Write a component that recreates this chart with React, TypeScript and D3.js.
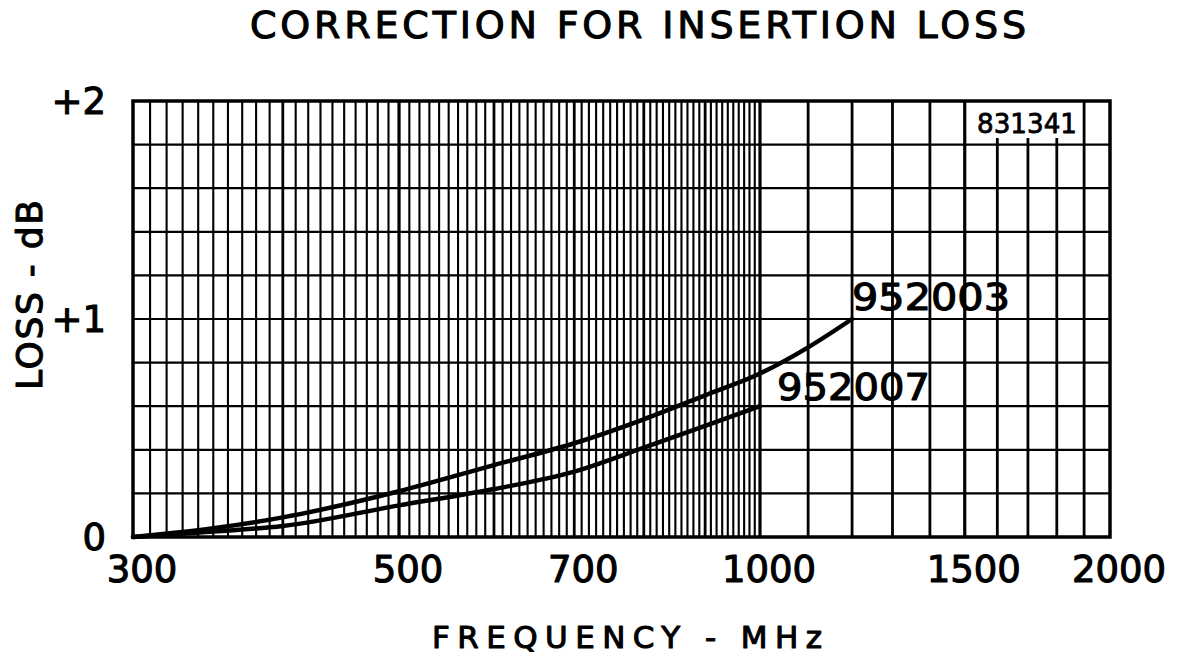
import { useEffect, useRef } from "react"
import * as d3 from "d3"

const title = "CORRECTION FOR INSERTION LOSS"
const xTitle = "FREQUENCY - MHz"
const yTitle = "LOSS - dB"
const chartId = "831341"

const xTicks = [300, 500, 700, 1000, 1500, 2000]
const yTicks = [0, 1, 2]
const yTickLabels = ["0", "+1", "+2"]

const freq952003 = [300, 350, 400, 500, 600, 700, 800, 900, 1000, 1100, 1200]
const loss952003 = [0, 0.04, 0.09, 0.21, 0.33, 0.43, 0.54, 0.65, 0.75, 0.87, 1.0]
const freq952007 = [300, 350, 400, 500, 600, 700, 800, 900, 1000]
const loss952007 = [0, 0.025, 0.05, 0.145, 0.22, 0.3, 0.41, 0.51, 0.6]

const W = 1187
const H = 657
const FONT = "'DejaVu Sans', sans-serif"

export default function App() {
  const svgRef = useRef<SVGSVGElement>(null)

  useEffect(() => {
    const svgEl = svgRef.current
    if (!svgEl) return
    const svg = d3.select(svgEl)
    svg.selectAll("*").remove()

    const left = 133, right = 1110, top = 101, bottom = 537
    // paper is log but hand-drawn, so pin the decade break at 1000
    const x = d3.scaleLog().domain([300, 1000, 2000]).range([left, 760, right])
    const y = d3.scaleLinear().domain([0, 2]).range([bottom, top])

    const fine = d3.range(310, 1000, 10)
    const coarse = d3.range(1000, 2000, 100)
    const g = svg.append("g").attr("stroke", "#000").attr("fill", "none")

    g.selectAll("line.v").data([...fine, ...coarse]).join("line")
      .attr("x1", d => x(d)).attr("x2", d => x(d))
      .attr("y1", top).attr("y2", bottom)
      .attr("stroke-width", d => (d % 500 === 0 ? 3.2 : d % 100 === 0 ? 2.8 : 2.1))

    g.selectAll("line.h").data(d3.range(0.2, 2, 0.2)).join("line")
      .attr("x1", left).attr("x2", right)
      .attr("y1", d => y(d)).attr("y2", d => y(d))
      .attr("stroke-width", 2.2)

    // id box
    svg.append("rect").attr("x", 969).attr("y", top).attr("width", 113).attr("height", 37).attr("fill", "#fff")

    svg.append("rect").attr("x", left).attr("y", top).attr("width", right - left).attr("height", bottom - top)
      .attr("fill", "none").attr("stroke", "#000").attr("stroke-width", 3.5)

    const line = d3.line<[number, number]>().x(d => x(d[0])).y(d => y(d[1])).curve(d3.curveMonotoneX)
    const series = [
      freq952003.map((f, i) => [f, loss952003[i]] as [number, number]),
      freq952007.map((f, i) => [f, loss952007[i]] as [number, number]),
    ]
    svg.append("g").selectAll("path").data(series).join("path")
      .attr("d", d => line(d) || "")
      .attr("fill", "none").attr("stroke", "#000").attr("stroke-width", 4.5).attr("stroke-linecap", "round")

    // lettering: regular weight thickened with a thin stroke
    const txt = svg.append("g").attr("font-family", FONT).attr("fill", "#000")
      .attr("stroke", "#000").attr("stroke-width", 1.1).attr("stroke-linejoin", "round")

    txt.append("text").attr("x", 977).attr("y", 133).attr("font-size", 27).attr("stroke-width", 0.8)
      .attr("textLength", 100).attr("lengthAdjust", "spacingAndGlyphs").text(chartId)

    txt.append("text").attr("x", 250).attr("y", 38).attr("font-size", 38)
      .attr("textLength", 776).attr("lengthAdjust", "spacing").text(title)

    txt.selectAll("text.xt").data(xTicks).join("text")
      .attr("x", d => x(d) + 9).attr("y", 582).attr("text-anchor", "middle").attr("font-size", 37)
      .text(d => String(d))

    txt.selectAll("text.yt").data(yTicks).join("text")
      .attr("x", 106).attr("y", d => y(d) + 13).attr("text-anchor", "end").attr("font-size", 37)
      .text((_, i) => yTickLabels[i])

    txt.append("text").attr("transform", "translate(42,295) rotate(-90)")
      .attr("text-anchor", "middle").attr("font-size", 36)
      .attr("textLength", 190).attr("lengthAdjust", "spacing").text(yTitle)

    txt.append("text").attr("x", 432).attr("y", 648).attr("font-size", 31)
      .attr("textLength", 390).attr("lengthAdjust", "spacing").text(xTitle)

    txt.append("text").attr("x", 852).attr("y", 310).attr("font-size", 37)
      .attr("textLength", 158).attr("lengthAdjust", "spacingAndGlyphs").text("952003")
    txt.append("text").attr("x", 777).attr("y", 400).attr("font-size", 37)
      .attr("textLength", 153).attr("lengthAdjust", "spacingAndGlyphs").text("952007")
  }, [])

  return (
    <svg ref={svgRef} width={W} height={H} viewBox={`0 0 ${W} ${H}`}
      style={{ position: "absolute", left: 0, top: 0, background: "#fff" }} />
  )
}
